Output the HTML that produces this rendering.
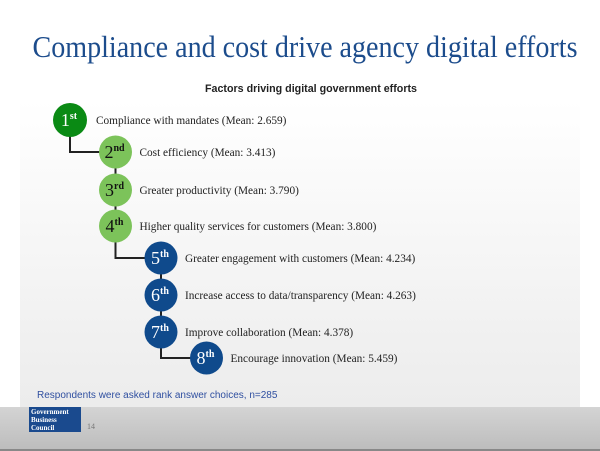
<!DOCTYPE html>
<html><head><meta charset="utf-8"><style>
body{margin:0;width:600px;height:451px;overflow:hidden;background:#fff}
svg{display:block}
</style></head><body>
<svg id="chart" width="600" height="451" viewBox="0 0 600 451" xmlns="http://www.w3.org/2000/svg">
<defs>
<linearGradient id="bg" x1="0" y1="0" x2="0" y2="1"><stop offset="0" stop-color="#ffffff"/><stop offset="1" stop-color="#ececec"/></linearGradient>
<linearGradient id="ft" x1="0" y1="0" x2="0" y2="1"><stop offset="0" stop-color="#d4d4d4"/><stop offset="1" stop-color="#bdbdbd"/></linearGradient>
</defs>
<rect x="20" y="100" width="560" height="307" fill="url(#bg)"/>
<text x="305" y="57" text-anchor="middle" font-family="Liberation Serif, serif" font-size="31" fill="#1c4c8c" textLength="545" lengthAdjust="spacingAndGlyphs">Compliance and cost drive agency digital efforts</text>
<text x="311" y="92" text-anchor="middle" font-family="Liberation Sans, sans-serif" font-weight="bold" font-size="11" fill="#222" textLength="212" lengthAdjust="spacingAndGlyphs">Factors driving digital government efforts</text>
<g id="links"></g>
<g id="nodes"></g>
<text x="37" y="398" font-family="Liberation Sans, sans-serif" font-size="10" fill="#2f4fa0">Respondents were asked rank answer choices, n=285</text>
<rect x="0" y="407" width="600" height="42" fill="url(#ft)"/>
<rect x="0" y="449" width="600" height="2" fill="#888"/>
<g>
<rect x="29" y="407" width="52" height="25" fill="#1a4a8e"/>
<text font-family="Liberation Serif, serif" font-size="7" font-weight="bold" fill="#fff"><tspan x="31" y="414">Government</tspan><tspan x="31" y="422">Business</tspan><tspan x="31" y="430">Council</tspan></text>
</g>
<text x="87" y="429" font-family="Liberation Serif, serif" font-size="8" fill="#777">14</text>
</svg>
<script>
const ranks = ["1","2","3","4","5","6","7","8"];
const suffixes = ["st","nd","rd","th","th","th","th","th"];
const factors = ["Compliance with mandates","Cost efficiency","Greater productivity","Higher quality services for customers","Greater engagement with customers","Increase access to data/transparency","Improve collaboration","Encourage innovation"];
const means = ["2.659","3.413","3.790","3.800","4.234","4.263","4.378","5.459"];
const levels = [0,1,1,1,2,2,2,3];
const colors = ["#0a8a14","#7cc35a","#7cc35a","#7cc35a","#0f4a8c","#0f4a8c","#0f4a8c","#0f4a8c"];
const NS="http://www.w3.org/2000/svg";
const links=document.getElementById('links'), nodes=document.getElementById('nodes');
function cx(i){return 70+levels[i]*45.5;}
const ys=[120,152,190,226,258,295,332,358];
function yy(i){return ys[i]!==undefined?ys[i]:120+i*34;}
for(let i=0;i<ranks.length;i++){
  if(i>0){
    const p=document.createElementNS(NS,'path');
    p.setAttribute('d',`M${cx(i-1)} ${yy(i-1)} V${yy(i)} H${cx(i)}`);
    p.setAttribute('fill','none');p.setAttribute('stroke','#222');p.setAttribute('stroke-width','2');
    
    
    links.appendChild(p);
  }
  const g=document.createElementNS(NS,'g');
  
  
  const c=document.createElementNS(NS,'circle');
  c.setAttribute('cx',cx(i));c.setAttribute('cy',yy(i));c.setAttribute('r',i==0?17:16.5);c.setAttribute('fill',colors[i]);
  
  
  g.appendChild(c);
  const t=document.createElementNS(NS,'text');
  t.setAttribute('x',cx(i)-1);t.setAttribute('y',yy(i)+6);t.setAttribute('text-anchor','middle');
  t.setAttribute('font-family','Liberation Serif, serif');t.setAttribute('font-size','18');
  t.setAttribute('fill',(i>0&&i<4)?'#111':'#fff');
  t.innerHTML=ranks[i]+'<tspan font-size="10" font-weight="bold" dy="-7">'+suffixes[i]+'</tspan>';
  
  
  g.appendChild(t);
  const l=document.createElementNS(NS,'text');
  l.setAttribute('x',cx(i)+(i==0?26:24));l.setAttribute('y',yy(i)+4);
  l.setAttribute('font-family','Liberation Serif, serif');l.setAttribute('font-size','11.3');l.setAttribute('fill','#222');
  l.textContent=factors[i]+' (Mean: '+means[i]+')';
  
  
  g.appendChild(l);
  nodes.appendChild(g);
}
</script>
</body></html>
